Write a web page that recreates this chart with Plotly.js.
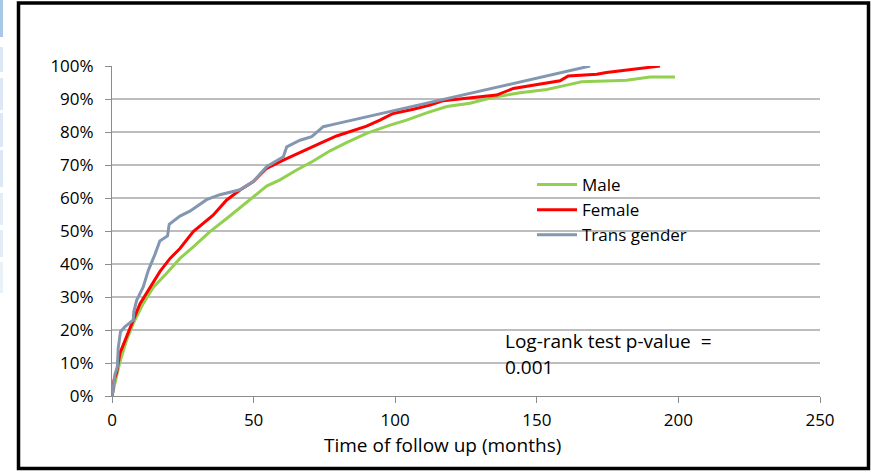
<!DOCTYPE html>
<html>
<head>
<meta charset="utf-8">
<script src="https://cdn.plot.ly/plotly-3.0.1.min.js"></script>
<style>
html,body{margin:0;padding:0;background:#fff;}
#chart{width:871px;height:472px;}
</style>
</head>
<body>
<div id="chart"></div>
<script>
// ---- data (months, cumulative %) ----
const seriesNames = ["Male", "Female", "Trans gender"];

const maleMonths = [0, 0.2, 1.0, 2.8, 5.2, 7.5, 11, 14.6, 19.3, 24, 28.7, 34.6, 40.5, 46.4, 51.1, 54.6, 59.3, 65.2, 71.1, 77, 82.8, 89.9, 98.2, 104, 111.1, 118.2, 126.4, 134.6, 144.1, 153.5, 160.5, 165.8, 177, 181.7, 190, 198.8];
const malePct    = [0, 0.8, 4, 10.4, 17, 22, 28, 33, 37.2, 41.7, 45.2, 49.8, 53.8, 57.9, 61.4, 63.6, 65.5, 68.5, 71.2, 74.3, 76.8, 79.6, 82.1, 83.6, 85.8, 87.7, 88.7, 90.5, 91.9, 92.9, 94.2, 95.2, 95.5, 95.7, 96.7, 96.7];

const femaleMonths = [0, 0.2, 0.7, 1.6, 2.8, 4.6, 7.5, 9.9, 13.4, 16.9, 20.5, 24, 28.7, 33.4, 35.7, 40.5, 45.2, 49.9, 54.6, 60.5, 66.4, 74.6, 79.3, 84, 89.9, 94.6, 99.3, 106.4, 112.3, 117, 125.2, 135.8, 141.7, 153.5, 158.2, 161.1, 171.2, 174.6, 193.5];
const femalePct    = [0, 0.8, 4.8, 7, 13, 17, 23, 28, 33, 37.7, 41.7, 44.7, 49.8, 53.3, 54.8, 59.4, 62.4, 65, 69, 71.5, 73.7, 77, 78.8, 80.1, 81.8, 83.6, 85.6, 86.9, 88.2, 89.5, 90.2, 91.2, 93.2, 94.7, 95.5, 97, 97.5, 98, 100];

const transMonths = [0, 0.2, 1.0, 1.9, 2.2, 3.0, 4.6, 7.5, 7.7, 8.7, 11, 12.8, 15.2, 16.9, 19.6, 20.2, 24, 27.5, 33.4, 38.1, 45.2, 49.9, 54.6, 60.5, 61.7, 66.4, 70.5, 74.6, 78.2, 168.8];
const transPct    = [0, 0.8, 6.4, 8.9, 14.5, 19.5, 21, 23, 25.5, 29, 33, 38, 43, 47, 48.5, 52, 54.5, 56, 59.5, 61, 62.5, 65, 69.5, 72.5, 75.5, 77.5, 78.6, 81.6, 82.3, 100];

const xTickVals = [0, 50, 100, 150, 200, 250];
const yTickVals = [0, 10, 20, 30, 40, 50, 60, 70, 80, 90, 100];
const xTitle = "Time of follow up (months)";
const noteLine1 = "Log-rank test p-value  =";
const noteLine2 = "0.001";

// ---- layout helpers (pixel -> paper) ----
const W = 871, H = 472;
const L = 112, R = 820, T = 66, B = 396;
const px = v => (v - L) / (R - L);
const py = v => (B - v) / (B - T);

const FONT = "'Open Sans', sans-serif";

const traces = [
  {x: maleMonths, y: malePct, name: seriesNames[0], type: "scatter", mode: "lines",
   line: {color: "#92D050", width: 3}},
  {x: femaleMonths, y: femalePct, name: seriesNames[1], type: "scatter", mode: "lines",
   line: {color: "#FF0000", width: 3}},
  {x: transMonths, y: transPct, name: seriesNames[2], type: "scatter", mode: "lines",
   line: {color: "#8497B0", width: 3}}
];

const blueBlocks = [[0,37,"#a9c8e8"],[47,72,"#dce8f5"],[78,110,"#dce8f5"],[113,147,"#dce8f5"],[150,187,"#dce8f5"],[193,225,"#e3edf7"],[230,257,"#e3edf7"],[262,293,"#e8f0f8"]];

const shapes = blueBlocks.map(b => ({
  type: "rect", xref: "paper", yref: "paper", layer: "below",
  x0: px(0), x1: px(3), y0: py(b[1]), y1: py(b[0]),
  fillcolor: b[2], line: {width: 0}
}));
shapes.push({
  type: "rect", xref: "paper", yref: "paper",
  x0: px(18.5), x1: px(868.5), y0: py(468.5), y1: py(3),
  line: {color: "#000", width: 3.5}, fillcolor: "rgba(0,0,0,0)"
});

const layout = {
  width: W, height: H,
  margin: {l: L, r: W - R, t: T, b: H - B, pad: 0},
  paper_bgcolor: "#fff", plot_bgcolor: "#fff",
  font: {family: FONT, size: 17, color: "#000"},
  showlegend: true,
  legend: {
    x: px(532), y: py(167), xanchor: "left", yanchor: "top",
    bgcolor: "rgba(0,0,0,0)", borderwidth: 0,
    font: {family: FONT, size: 17, color: "#000"},
    itemwidth: 40, tracegroupgap: 0
  },
  xaxis: {
    range: [0, 250], tickvals: xTickVals, ticktext: xTickVals.map(String),
    showgrid: false, zeroline: false,
    showline: true, linecolor: "#8c8c8c", linewidth: 1,
    ticks: "outside", ticklen: 6, tickcolor: "#8c8c8c", tickwidth: 1,
    ticklabelstandoff: 3,
    tickfont: {family: FONT, size: 17, color: "#000"},
    fixedrange: true
  },
  yaxis: {
    range: [0, 100], tickvals: yTickVals, ticktext: yTickVals.map(v => v + "%"),
    showgrid: true, gridcolor: "#bdbdbd", gridwidth: 1.3,
    zeroline: false,
    showline: true, linecolor: "#8c8c8c", linewidth: 1,
    ticks: "outside", ticklen: 6, tickcolor: "#8c8c8c", tickwidth: 1,
    ticklabelstandoff: 8,
    tickfont: {family: FONT, size: 17, color: "#000"},
    fixedrange: true
  },
  shapes: shapes,
  annotations: [
    {xref: "paper", yref: "paper", x: px(442), y: py(445), xanchor: "center", yanchor: "middle",
     text: xTitle, showarrow: false, font: {family: FONT, size: 19, color: "#000"}},
    {xref: "paper", yref: "paper", x: px(503), y: py(341), xanchor: "left", yanchor: "middle",
     text: noteLine1, showarrow: false, font: {family: FONT, size: 19, color: "#000"}},
    {xref: "paper", yref: "paper", x: px(503), y: py(367), xanchor: "left", yanchor: "middle",
     text: noteLine2, showarrow: false, font: {family: FONT, size: 19, color: "#000"}}
  ]
};

Plotly.newPlot("chart", traces, layout, {staticPlot: true, displayModeBar: false});
</script>
</body>
</html>
